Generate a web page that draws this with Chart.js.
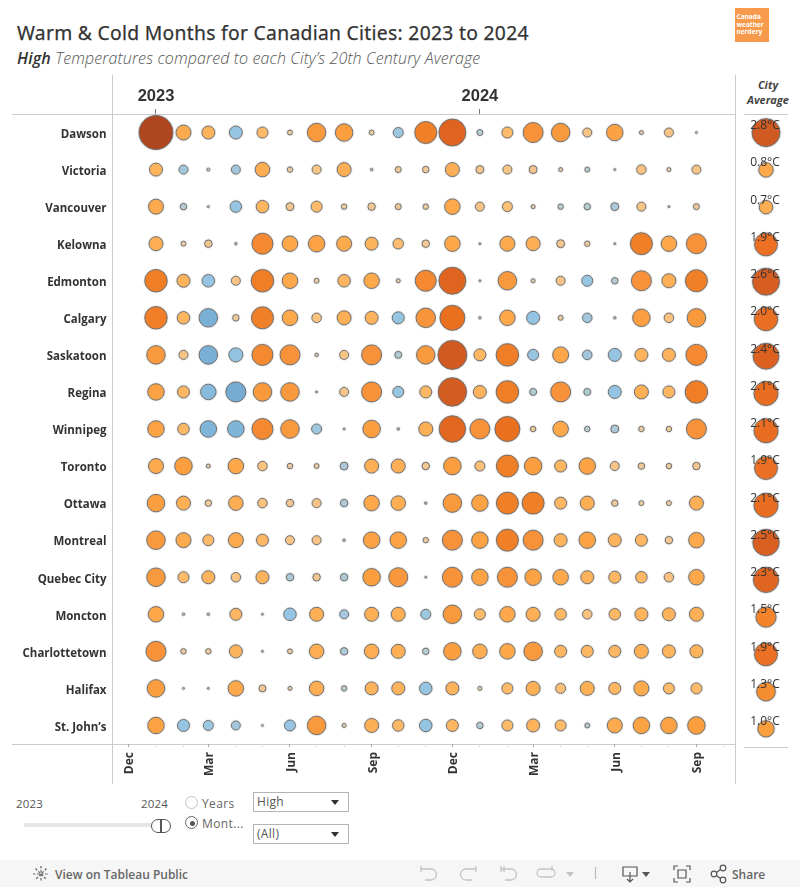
<!DOCTYPE html>
<html><head><meta charset="utf-8">
<script src="https://cdn.jsdelivr.net/npm/chart.js@4"></script>
<style>
html,body{margin:0;padding:0;background:#fff;overflow:hidden}
body{position:relative;width:800px;height:887px;font-family:"Open Sans",sans-serif;color:#333}
.a{position:absolute;white-space:nowrap}
.l{position:absolute;background:#cbcbcb}
canvas{position:absolute}
.dd{box-sizing:border-box;position:absolute;width:96px;height:20px;border:1px solid #b4b4b4;font-size:12px;color:#555;line-height:17px;padding-left:3px;letter-spacing:.3px}
.dd:after{content:"";position:absolute;right:9px;top:7px;border-left:4px solid transparent;border-right:4px solid transparent;border-top:5px solid #333}
.radio{position:absolute;width:11px;height:11px;border:1.5px solid #c4c4c4;border-radius:50%;background:#fff}
</style></head><body>
<div class="a" style="left:17px;top:19px;font-size:19.3px;font-weight:400;font-family:'Noto Sans';letter-spacing:.3px;color:#333;-webkit-text-stroke:.25px #333">Warm &amp; Cold Months for Canadian Cities: 2023 to 2024</div>
<div class="a" style="left:17px;top:47px;font-size:16px;font-style:italic;font-weight:300;font-family:'Open Sans';color:#555;letter-spacing:.13px"><b style="font-weight:600;color:#333">High</b> Temperatures compared to each City’s 20th Century Average</div>
<div class="a" style="left:735px;top:8px;width:34px;height:34px;background:#F89A4B;color:#fff;font-size:6.5px;font-weight:700;line-height:7.6px;padding:0;"><div style="padding:5px 0 0 1.5px">Canada<br>weather<br>nerdery</div></div>
<div class="l" style="left:112px;top:75px;width:1px;height:709px"></div>
<div class="l" style="left:735px;top:75px;width:1px;height:709px"></div>
<div class="l" style="left:12px;top:114px;width:723px;height:1px"></div>
<div class="l" style="left:12px;top:744px;width:723px;height:1px"></div>
<div class="l" style="left:744px;top:114px;width:44px;height:1px"></div>
<div class="l" style="left:744px;top:747px;width:44px;height:1px"></div>
<div class="a" style="left:736px;top:77px;width:64px;text-align:center;font-size:11px;font-weight:700;font-style:italic;line-height:15px;color:#444">City<br>Average</div>
<canvas id="main" style="left:0;top:75px"></canvas>
<canvas id="side" style="left:736px;top:75px"></canvas>

<div class="a" style="left:16px;top:796px;font-size:11.5px;color:#555;letter-spacing:.2px">2023</div>
<div class="a" style="left:141px;top:796px;font-size:11.5px;color:#555;letter-spacing:.2px">2024</div>
<div class="a" style="left:24px;top:823px;width:130px;height:4px;background:#e6e6e6"></div>
<div class="a" style="left:151px;top:819px;width:18px;height:12px;border:1px solid #555;border-radius:7px;background:#fff"></div>
<div class="a" style="left:160px;top:819px;width:2px;height:13px;background:#555"></div>
<div class="radio" style="left:185px;top:796px"></div>
<div class="a" style="left:202px;top:795px;font-size:12px;color:#666;letter-spacing:.4px">Years</div>
<div class="radio" style="left:185px;top:816px;border-color:#666"></div>
<div class="a" style="left:189.500px;top:820.500px;width:5px;height:5px;border-radius:50%;background:#555"></div>
<div class="a" style="left:202px;top:815px;font-size:12px;color:#666;letter-spacing:.4px">Mont...</div>
<div class="dd" style="left:253px;top:792px">High</div>
<div class="dd" style="left:253px;top:824px">(All)</div>

<div class="a" style="left:0;top:860px;width:800px;height:27px;background:#f6f6f6"></div>
<svg class="a" style="left:0;top:860px" width="800" height="27" viewBox="0 0 800 27" fill="none" stroke="#777" stroke-width="1.2">
<g stroke="#666"><path d="M41 6v16M33 14h16M35.500 8.500l11 11M46.500 8.500l-11 11" stroke-dasharray="2.500 1.500"/></g>
<g stroke="#c4c4c4" stroke-width="1.300"><path d="M421 9h10a4.500 4.500 0 0 1 0 11h-6"/><path d="M421 6v6"/>
<path d="M476 9h-10a4.500 4.500 0 0 0 0 11h6"/><path d="M476 6v6"/>
<path d="M501 9h10a4.500 4.500 0 0 1 0 11h-6"/><path d="M501 6v6M504 6v6"/>
<path d="M551 9h-10a4 4 0 0 0 0 8h10a4 4 0 0 0 0-8"/><path d="M552 6v5"/></g>
<path d="M566 12h8l-4 5z" fill="#c4c4c4" stroke="none"/>
<path d="M595.500 7v12" stroke="#bbb"/>
<path d="M623 7h14v9h-14zM630 12v10M627 19l3 3 3-3" stroke="#555"/>
<path d="M642 12h8l-4 5z" fill="#555" stroke="none"/>
<path d="M674 10V6h4M686 6h4v4M690 18v4h-4M678 22h-4v-4M678 10h8v8h-8z" stroke="#555"/>
<circle cx="723" cy="8" r="2.800" stroke="#555"/><circle cx="714" cy="14" r="2.800" stroke="#555"/><circle cx="723" cy="20" r="2.800" stroke="#555"/><path d="M716.500 12.500l4-3M716.500 15.500l4 3" stroke="#555"/>
</svg>
<div class="a" style="left:55px;top:866px;font-size:12px;color:#666;font-weight:600">View on Tableau Public</div>
<div class="a" style="left:732px;top:866px;font-size:12px;color:#666;font-weight:600">Share</div>

<script>
const months=['2023-01','2023-02','2023-03','2023-04','2023-05','2023-06','2023-07','2023-08','2023-09','2023-10','2023-11','2023-12','2024-01','2024-02','2024-03','2024-04','2024-05','2024-06','2024-07','2024-08','2024-09'];
const axisMonths=['2022-12','2023-01','2023-02','2023-03','2023-04','2023-05','2023-06','2023-07','2023-08','2023-09','2023-10','2023-11','2023-12','2024-01','2024-02','2024-03','2024-04','2024-05','2024-06','2024-07','2024-08','2024-09','2024-10'];
const labelledMonths={'2022-12':'Dec','2023-03':'Mar','2023-06':'Jun','2023-09':'Sep','2023-12':'Dec','2024-03':'Mar','2024-06':'Jun','2024-09':'Sep'};
const yearTicks={'2023-01':'2023','2024-01':'2024'};
const cities=['Dawson','Victoria','Vancouver','Kelowna','Edmonton','Calgary','Saskatoon','Regina','Winnipeg','Toronto','Ottawa','Montreal','Quebec City','Moncton','Charlottetown','Halifax','St. John’s'];
const dawson=[12,2.51,1.92,-1.92,1.41,.35,3.73,3.36,.35,-1.19,5.19,7.69,-.48,1.41,4.32,3.73,.98,3.0,.25,.98,.09];
const victoria=[1.92,-.98,.16,-.98,2.36,.41,.98,2.21,.12,.48,.55,2.21,.79,.98,.79,.25,-.35,.09,1.08,.25,.98];
const vancouver=[2.51,-.55,.09,-1.53,1.79,.79,1.41,.41,.71,.48,.41,2.67,.98,1.19,.25,-.41,-.55,-.79,.98,.09,.48];
const kelowna=[2.21,.35,.71,.12,4.75,2.67,3.0,2.51,1.92,1.3,.71,2.67,.09,2.51,2.21,.79,.41,.09,5.19,2.67,4.32];
const edmonton=[5.41,1.92,-1.79,.98,5.41,2.67,.35,1.79,2.67,.25,4.75,7.69,.09,3.73,.25,.98,-1.41,-.55,4.32,2.21,5.19];
const calgary=[5.41,1.79,-3.73,.55,5.19,2.67,1.08,2.21,1.92,-1.66,4.12,6.63,.12,2.67,-1.92,.35,-1.08,.12,3.36,1.08,3.73];
const saskatoon=[3.73,.98,-3.73,-2.21,4.75,4.32,.2,.98,4.32,-.63,3.73,8.82,1.66,5.41,-1.41,2.83,-1.08,-1.92,1.92,1.92,4.75];
const regina=[3.0,1.66,-2.67,-4.32,3.73,3.73,.09,.98,4.32,-1.41,1.66,8.53,1.92,5.41,-.63,4.32,-.63,-1.92,2.21,1.66,5.41];
const winnipeg=[3.0,1.53,-3.0,-3.0,4.75,3.73,-1.19,.09,3.36,.12,2.21,7.41,4.32,6.63,.41,2.67,-.41,-.79,.41,.41,4.32];
const toronto=[2.51,3.36,.25,2.67,1.08,.41,.35,-.79,2.21,2.21,.71,3.36,1.19,5.19,3.36,1.66,3.0,.98,.55,.41,.71];
const ottawa=[3.36,2.21,.55,2.36,1.08,.71,.98,-.71,2.67,2.36,.12,3.73,3.0,5.19,5.19,1.66,2.21,.55,.35,.35,2.21];
const montreal=[3.73,2.51,1.41,2.51,1.66,.98,.98,.12,3.0,3.0,.41,4.32,3.0,5.19,4.32,1.92,3.0,1.92,1.66,.71,2.67];
const quebecCity=[3.73,1.41,1.92,1.08,1.92,-.71,.71,-.71,3.36,3.92,.09,4.32,3.0,4.32,3.0,2.67,1.92,1.66,1.53,1.08,2.67];
const moncton=[2.67,.12,.12,1.66,.09,-1.79,2.21,-.98,2.21,2.21,-1.19,3.73,1.41,2.67,2.21,1.53,1.08,1.53,1.92,1.92,2.21];
const charlottetown=[4.32,.41,.41,1.92,.09,.35,2.36,-.71,2.36,2.21,-.55,3.36,2.36,2.67,3.73,1.66,1.66,1.66,2.21,1.92,1.92];
const halifax=[3.36,.09,.09,2.67,.63,.25,2.36,-.41,1.92,1.92,-1.79,1.92,.25,1.41,2.21,1.19,2.21,1.66,2.51,1.41,1.41];
const stJohns=[3.0,-1.66,-1.19,-.98,.09,-1.41,3.73,.25,2.21,1.53,-1.79,1.66,-.55,1.41,1.92,1.41,-.35,2.51,3.0,3.0,3.36];
const cityAverage=[2.8,.8,.7,1.9,2.6,2.0,2.4,2.1,2.1,1.9,2.1,2.5,2.3,1.5,1.9,1.3,1.0];

const rows=[dawson,victoria,vancouver,kelowna,edmonton,calgary,saskatoon,regina,winnipeg,toronto,ottawa,montreal,quebecCity,moncton,charlottetown,halifax,stJohns];
const dayOf=m=>{const [y,n]=m.split('-').map(Number);return (Date.UTC(y,n-1,1)-Date.UTC(2022,11,1))/864e5;};

const warm=[[0,'#D9CCB9'],[.09,'#D9CCB9'],[.35,'#EBCBA0'],[.98,'#F8C486'],[1.4,'#FDBA68'],[2.2,'#FDAF55'],[3.2,'#FBA040'],[4.3,'#F7923A'],[5.2,'#F08028'],[6.6,'#E8701F'],[7.7,'#DE6420'],[8.8,'#D05A22'],[12,'#AE4720']];
const cold=[[0,'#C8CFCF'],[.35,'#BACBCF'],[.55,'#B4CCD3'],[.98,'#A3C7DC'],[1.4,'#97C5E2'],[2.2,'#92C4E2'],[3.0,'#80B5DA'],[3.7,'#7BB0D6'],[4.3,'#76ABD3']];
const avgRamp=[[.7,'#FDAE52'],[1.0,'#FB9E3E'],[1.3,'#F58E31'],[1.5,'#F3842B'],[1.9,'#EC7023'],[2.1,'#E96D20'],[2.4,'#DC6121'],[2.8,'#CF5A22']];
const hex=h=>[1,3,5].map(i=>parseInt(h.substr(i,2),16));
function ramp(t,v){
  if(v<=t[0][0])return t[0][1];
  for(let i=1;i<t.length;i++){if(v<=t[i][0]){
    const f=(v-t[i-1][0])/(t[i][0]-t[i-1][0]),a=hex(t[i-1][1]),b=hex(t[i][1]);
    return 'rgb('+a.map((c,k)=>Math.round(c+(b[k]-c)*f)).join(',')+')';}}
  return t[t.length-1][1];
}
const colorOf=v=>ramp(v<0?cold:warm,Math.abs(v));
const sizeOf=v=>Math.max(1,Math.sqrt(Math.abs(v)*25.5)-.5);
const avgSize=v=>Math.sqrt(v*75)-.5;

const points=[];
rows.forEach((r,i)=>r.forEach((v,j)=>points.push({x:dayOf(months[j]),y:cities[i],v})));
const avgPoints=cityAverage.map((v,i)=>({x:0,y:cities[i],v}));

const labelsPlugin={id:'avgLabels',afterDatasetsDraw(c){
  const ctx=c.ctx,meta=c.getDatasetMeta(1);ctx.save();
  ctx.font='12px "Open Sans"';ctx.fillStyle='#333';ctx.textAlign='center';ctx.textBaseline='middle';
  meta.data.forEach((el,i)=>ctx.fillText(cityAverage[i].toFixed(1)+'°C',el.x-1,el.y-7));
  ctx.restore();}};

const MAIN_W=736,MAIN_H=709;
function size(id,w,h){const e=document.getElementById(id);e.width=w;e.height=h;e.style.width=w+'px';e.style.height=h+'px';return e;}
const noPad=s=>{s.paddingLeft=0;s.paddingRight=0;s.paddingTop=0;s.paddingBottom=0;};

new Chart(size('main',MAIN_W,MAIN_H),{type:'bubble',
 data:{datasets:[
  {label:'halo',data:points,backgroundColor:'rgba(0,0,0,0)',borderColor:'rgba(170,170,170,.25)',borderWidth:1,radius:c=>sizeOf(c.raw.v)+.9,order:2},
  {label:'Temperature difference',data:points,backgroundColor:c=>colorOf(c.raw.v),borderColor:'#6e6e6e',borderWidth:1,radius:c=>sizeOf(c.raw.v),order:1}
 ]},
 options:{responsive:false,animation:false,events:[],clip:false,
  layout:{autoPadding:false,padding:0},
  plugins:{legend:{display:false},tooltip:{enabled:false}},
  scales:{
   x:{type:'linear',position:'bottom',min:-18,max:684.6,
    afterBuildTicks:s=>{s.ticks=axisMonths.map(m=>({value:dayOf(m)}));},
    afterFit:s=>{s.height=40;noPad(s);},
    border:{display:false},
    grid:{drawOnChartArea:false,drawTicks:true,tickLength:3,tickWidth:1,color:c=>{const m=axisMonths.find(a=>dayOf(a)===c.tick.value);return m&&labelledMonths[m]?'#a5a5a5':'#dddddd';}},
    ticks:{autoSkip:false,minRotation:90,maxRotation:90,padding:5,labelOffset:1.5,color:'#333',font:{family:'Open Sans',size:12,weight:'700'},
     callback:v=>{const m=axisMonths.find(a=>dayOf(a)===v);return (m&&labelledMonths[m])||'';}}},
   xTop:{type:'linear',position:'top',min:-18,max:684.6,
    afterBuildTicks:s=>{s.ticks=Object.keys(yearTicks).map(m=>({value:dayOf(m)}));},
    afterFit:s=>{s.height=39;noPad(s);},
    border:{display:false},
    grid:{drawOnChartArea:false,tickLength:5,color:'#777'},
    ticks:{autoSkip:false,maxRotation:0,minRotation:0,padding:3,color:'#333',font:{family:'Liberation Sans',size:16.5,weight:'bold'},
     callback:v=>{const m=Object.keys(yearTicks).find(a=>dayOf(a)===v);return m?yearTicks[m]:'';}}},
   y:{type:'category',labels:cities,offset:true,position:'left',
    afterFit:s=>{s.width=112.5;noPad(s);},
    border:{display:false},
    grid:{display:false,drawTicks:false},
    ticks:{autoSkip:false,padding:6,labelOffset:2,color:'#333',font:{family:'Open Sans',size:11.5,weight:'700'}}}
  }}});

new Chart(size('side',64,709),{type:'bubble',
 data:{datasets:[
  {label:'halo',data:avgPoints,backgroundColor:'rgba(0,0,0,0)',borderColor:'rgba(170,170,170,.4)',borderWidth:1,radius:c=>avgSize(c.raw.v)+.9,order:2},
  {label:'City Average',data:avgPoints,backgroundColor:c=>ramp(avgRamp,c.raw.v),borderColor:'#6e6e6e',borderWidth:1,radius:c=>avgSize(c.raw.v),order:1}
 ]},
 options:{responsive:false,animation:false,events:[],clip:false,
  layout:{autoPadding:false,padding:{top:39,bottom:36.5,left:0,right:0}},
  plugins:{legend:{display:false},tooltip:{enabled:false}},
  scales:{
   x:{type:'linear',min:-30,max:34,display:false},
   y:{type:'category',labels:cities,offset:true,display:false}
  }},plugins:[labelsPlugin]});
</script>
</body></html>
